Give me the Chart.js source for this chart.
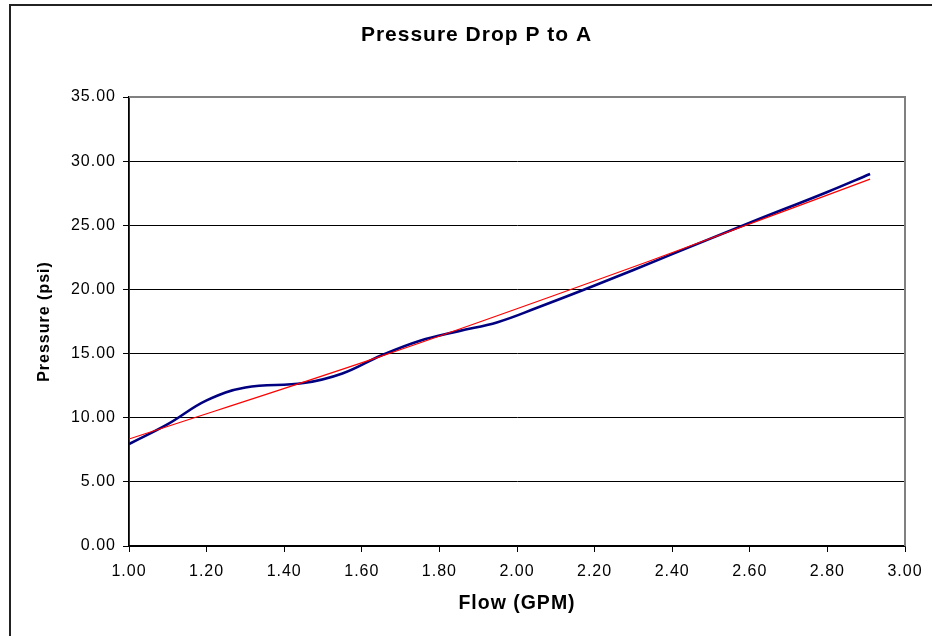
<!DOCTYPE html>
<html>
<head>
<meta charset="utf-8">
<title>Pressure Drop P to A</title>
<script src="https://cdn.jsdelivr.net/npm/chart.js@4.4.1/dist/chart.umd.min.js"></script>
<style>
  html, body { margin: 0; padding: 0; background: #fff; overflow: hidden; }
  #wrap { position: relative; width: 932px; height: 636px; }
  #c { display: block; }
  #frame { position: absolute; left: 9px; top: 4px; width: 1000px; height: 700px;
           border-left: 2px solid #222; border-top: 2px solid #222; pointer-events: none; }
</style>
</head>
<body>
<div id="wrap">
  <canvas id="c" width="932" height="636"></canvas>
  <div id="frame"></div>
</div>
<script>
const flow     = [1.00, 1.10, 1.20, 1.30, 1.45, 1.55, 1.65, 1.75, 1.85, 1.95, 2.05, 2.20, 2.40, 2.60, 2.80, 2.91];
const pressure = [7.95, 9.50, 11.35, 12.35, 12.70, 13.45, 14.85, 16.00, 16.75, 17.45, 18.55, 20.30, 22.75, 25.20, 27.60, 29.00];

// Trendline, read at a few places along the red line
const trendFlow     = [1.00, 1.66, 2.34, 2.91];
const trendPressure = [8.34, 14.90, 22.20, 28.60];

// Axis ranges
const xMin = 1.0, xMax = 3.0, xStep = 0.2;
const yMin = 0,   yMax = 35,  yStep = 5;

const FONT = '"Liberation Sans", Arial, sans-serif';
const toPts = (xs, ys) => xs.map((x, i) => ({ x, y: ys[i] }));

// ── Excel-ish plot frame, title offset, letter spacing ──────
const excelLook = {
  id: 'excelLook',
  afterLayout(chart) {
    // Excel centres the title over the whole chart object, not the canvas
    const tb = chart.titleBlock;
    if (tb) { tb.left = 48; tb.right = 905; }
  },
  beforeDraw(chart) {
    chart.ctx.letterSpacing = '1px';
  },
  afterDraw(chart) {
    const { ctx, chartArea: a } = chart;
    ctx.save();
    ctx.strokeStyle = '#808080';
    ctx.lineWidth = 2;
    ctx.beginPath();
    ctx.moveTo(a.left, a.top);
    ctx.lineTo(a.right, a.top);
    ctx.lineTo(a.right, a.bottom);
    ctx.stroke();
    ctx.restore();
  }
};

new Chart(document.getElementById('c'), {
  type: 'line',
  data: {
    datasets: [
      {
        label: 'Trend (Pressure)',
        data: toPts(trendFlow, trendPressure),
        borderColor: '#ff0000',
        borderWidth: 1.2,
        pointRadius: 0,
        cubicInterpolationMode: 'monotone',
        fill: false
      },
      {
        label: 'Pressure',
        data: toPts(flow, pressure),
        borderColor: '#000080',
        borderWidth: 2.6,
        pointRadius: 0,
        tension: 0.4,
        fill: false
      }
    ]
  },
  options: {
    responsive: false,
    animation: false,
    devicePixelRatio: 1,
    layout: { padding: { left: 0, right: 27, top: 0, bottom: 0 } },
    scales: {
      x: {
        type: 'linear',
        min: xMin, max: xMax,
        afterFit: s => { s.height = 90; },
        title: {
          display: true, text: 'Flow (GPM)', color: '#000',
          font: { family: FONT, size: 19.5, weight: 'bold', lineHeight: 1 },
          padding: { top: 0, bottom: 23 }
        },
        ticks: {
          stepSize: xStep, color: '#000', padding: 10,
          font: { family: FONT, size: 16 },
          callback: v => v.toFixed(2)
        },
        grid: { drawOnChartArea: false, drawTicks: true, tickLength: 6, color: '#000' },
        border: { color: '#000', width: 1.5 }
      },
      y: {
        min: yMin, max: yMax,
        afterFit: s => { s.width = 129; },
        title: {
          display: true, text: 'Pressure (psi)', color: '#000',
          font: { family: FONT, size: 16, weight: 'bold', lineHeight: 1 },
          padding: { top: 37, bottom: 0 }
        },
        ticks: {
          stepSize: yStep, color: '#000', padding: 7,
          font: { family: FONT, size: 16 },
          callback: v => v.toFixed(2)
        },
        grid: { color: '#000', lineWidth: 1, tickLength: 6 },
        border: { color: '#000', width: 1.8 }
      }
    },
    plugins: {
      legend: { display: false },
      tooltip: { enabled: false },
      title: {
        display: true, text: 'Pressure Drop P to A', color: '#000',
        font: { family: FONT, size: 21, weight: 'bold', lineHeight: 1 },
        padding: { top: 24.5, bottom: 51.5 }
      }
    }
  },
  plugins: [excelLook]
});
</script>
</body>
</html>
